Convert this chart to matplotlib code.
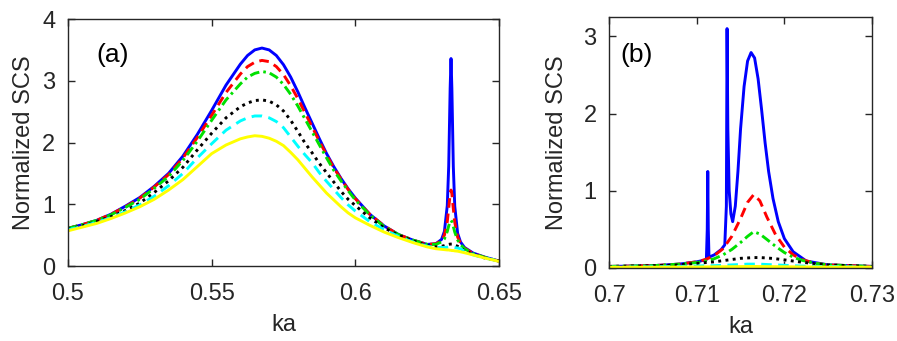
import matplotlib
matplotlib.use("Agg")
import matplotlib.pyplot as plt

plt.rcParams['font.family'] = ['Liberation Sans', 'DejaVu Sans']

# ---------------- panel (a) data ----------------
ka_a = [0.500, 0.505, 0.510, 0.515, 0.520, 0.525, 0.530, 0.535, 0.540, 0.545,
        0.550, 0.555, 0.560, 0.5625, 0.565, 0.5675, 0.570, 0.5725, 0.575, 0.5775,
        0.580, 0.5825, 0.585, 0.5875, 0.590, 0.5925, 0.595, 0.5975, 0.600, 0.605,
        0.610, 0.615, 0.620, 0.625,
        0.628, 0.630, 0.631, 0.632, 0.6325, 0.6330, 0.6333, 0.6336, 0.6341, 0.6346,
        0.6356, 0.6366, 0.638, 0.641, 0.645, 0.650]

blue_a = [0.61, 0.67, 0.74, 0.84, 0.97, 1.11, 1.29, 1.50, 1.78, 2.13,
          2.52, 2.93, 3.27, 3.41, 3.50, 3.53, 3.50, 3.41, 3.26, 3.06,
          2.82, 2.56, 2.31, 2.06, 1.82, 1.61, 1.42, 1.25, 1.10, 0.84,
          0.65, 0.51, 0.42, 0.35,
          0.36, 0.43, 0.56, 0.98, 1.62, 2.88, 3.36, 2.87, 1.61, 0.97,
          0.53, 0.39, 0.30, 0.21, 0.145, 0.08]
red_a = [0.61, 0.67, 0.74, 0.84, 0.96, 1.10, 1.28, 1.48, 1.75, 2.08,
         2.44, 2.81, 3.11, 3.23, 3.30, 3.33, 3.31, 3.23, 3.10, 2.92,
         2.71, 2.48, 2.25, 2.02, 1.80, 1.59, 1.41, 1.24, 1.09, 0.84,
         0.65, 0.51, 0.42, 0.35,
         0.36, 0.41, 0.50, 0.72, 0.94, 1.17, 1.23, 1.17, 0.93, 0.71,
         0.47, 0.37, 0.29, 0.20, 0.14, 0.08]
green_a = [0.61, 0.67, 0.74, 0.83, 0.95, 1.08, 1.26, 1.45, 1.71, 2.02,
           2.36, 2.69, 2.95, 3.06, 3.12, 3.15, 3.13, 3.06, 2.94, 2.78,
           2.59, 2.38, 2.17, 1.96, 1.75, 1.55, 1.38, 1.22, 1.07, 0.83,
           0.64, 0.51, 0.42, 0.35,
           0.35, 0.39, 0.44, 0.56, 0.65, 0.72, 0.74, 0.72, 0.64, 0.55,
           0.42, 0.35, 0.28, 0.20, 0.14, 0.08]
black_a = [0.60, 0.65, 0.72, 0.80, 0.90, 1.02, 1.19, 1.38, 1.60, 1.88,
           2.15, 2.40, 2.58, 2.64, 2.68, 2.69, 2.67, 2.61, 2.51, 2.36,
           2.18, 1.99, 1.83, 1.66, 1.51, 1.36, 1.21, 1.08, 0.98, 0.78,
           0.62, 0.50, 0.41, 0.33,
           0.31, 0.32, 0.33, 0.345, 0.35, 0.355, 0.355, 0.355, 0.35, 0.34,
           0.32, 0.30, 0.245, 0.19, 0.13, 0.08]
cyan_a = [0.59, 0.64, 0.71, 0.78, 0.88, 0.99, 1.13, 1.30, 1.50, 1.75,
          1.98, 2.20, 2.35, 2.40, 2.43, 2.43, 2.40, 2.34, 2.24, 2.09,
          1.94, 1.80, 1.67, 1.51, 1.37, 1.24, 1.11, 0.99, 0.89, 0.72,
          0.59, 0.48, 0.39, 0.32,
          0.30, 0.30, 0.30, 0.305, 0.31, 0.31, 0.31, 0.31, 0.305, 0.30,
          0.29, 0.28, 0.24, 0.18, 0.13, 0.08]
yellow_a = [0.57, 0.63, 0.69, 0.77, 0.86, 0.96, 1.08, 1.23, 1.40, 1.61,
            1.82, 1.96, 2.06, 2.09, 2.11, 2.10, 2.07, 2.02, 1.95, 1.84,
            1.72, 1.58, 1.44, 1.31, 1.18, 1.07, 0.96, 0.86, 0.78, 0.66,
            0.55, 0.46, 0.38, 0.31,
            0.28, 0.27, 0.265, 0.26, 0.26, 0.255, 0.255, 0.25, 0.25, 0.245,
            0.24, 0.23, 0.215, 0.18, 0.13, 0.075]

# ---------------- panel (b) data ----------------
ka_b_blue = [0.7000, 0.7050, 0.7080, 0.7100, 0.7108, 0.7111, 0.71120, 0.71126, 0.71132, 0.7114,
             0.7120, 0.7128, 0.7132, 0.71338, 0.71346, 0.71355, 0.7137, 0.7139, 0.7141, 0.7144,
             0.7147, 0.7150, 0.7154, 0.7158, 0.7162, 0.7166, 0.7170, 0.7174, 0.7178, 0.7182,
             0.7187, 0.7193, 0.7200, 0.7210, 0.7225, 0.7250, 0.7300]
blue_b = [0.02, 0.03, 0.05, 0.08, 0.10, 0.11, 0.50, 1.25, 0.50, 0.14,
          0.17, 0.24, 0.30, 0.80, 3.10, 1.80, 1.00, 0.70, 0.60, 0.80,
          1.25, 1.80, 2.35, 2.68, 2.79, 2.72, 2.45, 2.05, 1.62, 1.25,
          0.90, 0.60, 0.38, 0.21, 0.09, 0.04, 0.02]

ka_b = [0.700, 0.705, 0.708, 0.710, 0.711, 0.712, 0.713, 0.714, 0.715, 0.7158,
        0.7165, 0.7172, 0.718, 0.719, 0.720, 0.721, 0.722, 0.7235, 0.725, 0.7275, 0.730]
red_b = [0.02, 0.03, 0.05, 0.08, 0.11, 0.16, 0.25, 0.41, 0.64, 0.85,
         0.95, 0.87, 0.66, 0.43, 0.27, 0.17, 0.11, 0.06, 0.04, 0.03, 0.02]
green_b = [0.02, 0.03, 0.05, 0.07, 0.09, 0.12, 0.17, 0.24, 0.33, 0.41,
           0.47, 0.44, 0.37, 0.28, 0.20, 0.14, 0.10, 0.06, 0.04, 0.03, 0.02]
black_b = [0.02, 0.03, 0.04, 0.06, 0.07, 0.08, 0.095, 0.11, 0.125, 0.13,
           0.135, 0.135, 0.13, 0.12, 0.105, 0.09, 0.075, 0.055, 0.04, 0.03, 0.02]
cyan_b = [0.01, 0.015, 0.02, 0.025, 0.03, 0.03, 0.035, 0.04, 0.045, 0.05,
          0.05, 0.05, 0.045, 0.04, 0.035, 0.03, 0.025, 0.02, 0.02, 0.015, 0.01]
yellow_b = [0.01, 0.01, 0.012, 0.013, 0.014, 0.015, 0.016, 0.017, 0.018, 0.019,
            0.02, 0.019, 0.018, 0.017, 0.016, 0.015, 0.014, 0.013, 0.012, 0.011, 0.01]

xticks_a = [0.5, 0.55, 0.6, 0.65]
xticklabels_a = ['0.5', '0.55', '0.6', '0.65']
yticks_a = [0, 1, 2, 3, 4]
xticks_b = [0.7, 0.71, 0.72, 0.73]
xticklabels_b = ['0.7', '0.71', '0.72', '0.73']
yticks_b = [0, 1, 2, 3]

TXT = '#262626'
FS = 17
LW = 2.1

fig = plt.figure(figsize=(8.97, 3.41), dpi=100)
ax1 = fig.add_axes([0.0758, 0.2199, 0.4805, 0.7243])
ax2 = fig.add_axes([0.679, 0.2141, 0.2932, 0.736])

styles = [
    dict(color='#0000ff', ls='-'),
    dict(color='#ff0000', ls=(0, (3.3, 2.0))),
    dict(color='#00e000', ls=(0, (3.3, 1.4, 0.9, 1.4))),
    dict(color='#000000', ls=(0, (1, 1.5))),
    dict(color='#00ffff', ls=(0, (3.6, 2.2))),
    dict(color='#ffff00', ls='-'),
]

series_a = [blue_a, red_a, green_a, black_a, cyan_a, yellow_a]
for ys, st in zip(series_a, styles):
    ax1.plot(ka_a, ys, lw=LW, **st)

ax2.plot(ka_b_blue, blue_b, lw=LW, **styles[0])
series_b = [red_b, green_b, black_b, cyan_b, yellow_b]
for ys, st in zip(series_b, styles[1:]):
    ax2.plot(ka_b, ys, lw=LW, **st)

for ax in (ax1, ax2):
    ax.tick_params(direction='in', top=True, right=True, length=5, width=1,
                   colors=TXT, labelsize=FS)
    ax.tick_params(axis='x', pad=12)
    ax.tick_params(axis='y', pad=9)
    for s in ax.spines.values():
        s.set_color(TXT)
        s.set_linewidth(1.0)
    ax.set_xlabel('ka', fontsize=FS, color=TXT, labelpad=7)

ax1.set_ylabel('Normalized SCS', fontsize=FS, color=TXT, labelpad=5)
ax2.set_ylabel('Normalized SCS', fontsize=FS, color=TXT, labelpad=11)

ax1.set_xlim(0.5, 0.65)
ax1.set_ylim(0, 4)
ax1.set_xticks(xticks_a)
ax1.set_xticklabels(xticklabels_a)
ax1.set_yticks(yticks_a)
ax1.text(0.067, 0.855, '(a)', transform=ax1.transAxes, fontsize=19,
         color='black', va='center', ha='left')

ax2.set_xlim(0.7, 0.73)
ax2.set_ylim(0, 3.25)
ax2.set_xticks(xticks_b)
ax2.set_xticklabels(xticklabels_b)
ax2.set_yticks(yticks_b)
ax2.text(0.042, 0.847, '(b)', transform=ax2.transAxes, fontsize=19,
         color='black', va='center', ha='left')

fig.savefig('out.png', dpi=100)
